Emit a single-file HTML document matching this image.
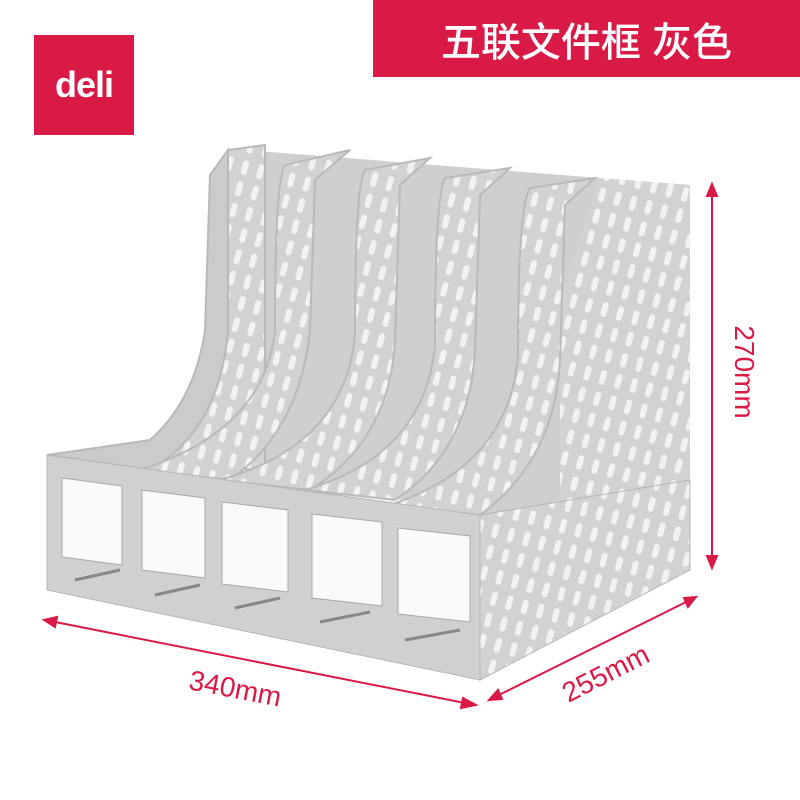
<!DOCTYPE html>
<html><head><meta charset="utf-8"><style>
html,body{margin:0;padding:0;background:#fff;width:800px;height:800px;overflow:hidden}
.logo{position:absolute;left:34px;top:35px;width:100px;height:100px;background:#d91a46;color:#fff;font:bold 36px "Liberation Sans",sans-serif;display:flex;align-items:center;justify-content:center;letter-spacing:-1px}
.ban{position:absolute;left:373px;top:0;width:427px;height:77px;background:#d91a46;color:#fff;font:500 40px "Liberation Sans","Noto Sans CJK SC",sans-serif;display:flex;align-items:center;justify-content:center}
svg{position:absolute;left:0;top:0}
</style></head><body>
<div class="logo">deli</div>
<div class="ban">五联文件框 灰色</div>
<svg width="800" height="800" viewBox="0 0 800 800">
<defs>
<pattern id="holes" width="16" height="22" patternUnits="userSpaceOnUse" patternTransform="rotate(15)">
<rect width="16" height="22" fill="#d2d2d2"/>
<rect x="5" y="3" width="6" height="15" rx="3" fill="#f2f2f2"/>
</pattern>
</defs>
<polygon points="245,150 600,178 690,185 690,570 480,515 245,470" fill="#cfcfcf"/>
<polygon points="600,178 690,185 690,570 560,540 560,300" fill="url(#holes)"/>
<g stroke="#b9b9b9" stroke-width="2">
<path d="M228,150 L265,145 265,470 L150,465 Q170,440 195,420 Q220,380 225,330 Z" fill="url(#holes)"/>
<path d="M228,150 L210,175 L205,330 Q195,400 150,440 L47,455 L150,470 Q220,430 228,330 Z" fill="#cbcbcb"/>
<path d="M350,150 L285,165 Q275,180 275,330 Q265,430 140,470 L230,480 Q300,430 310,330 L315,180 Z" fill="url(#holes)"/>
<path d="M430,158 L365,170 Q355,185 355,335 Q345,445 220,480 L310,490 Q390,440 395,340 L400,185 Z" fill="url(#holes)"/>
<path d="M510,168 L445,178 Q435,195 435,345 Q425,455 305,490 L395,500 Q470,450 475,350 L480,195 Z" fill="url(#holes)"/>
<path d="M595,178 L530,188 Q518,205 518,355 Q510,465 390,505 L480,515 Q555,460 560,360 L565,205 Z" fill="url(#holes)"/>
</g>
<polygon points="47,455 480,515 480,680 47,590" fill="#d0d0d0" stroke="#b5b5b5"/>
<polygon points="480,515 690,480 690,570 480,680" fill="url(#holes)" stroke="#b5b5b5"/>
<g fill="#fafafa" stroke="#a8a8a8">
<polygon points="62,478 122,486 122,565 62,557"/>
<polygon points="142,490 205,498 205,578 142,570"/>
<polygon points="222,502 288,510 288,592 222,584"/>
<polygon points="312,514 382,522 382,606 312,598"/>
<polygon points="398,528 470,536 470,622 398,614"/>
</g>
<g stroke="#888" stroke-width="3">
<line x1="75" y1="580" x2="120" y2="570"/><line x1="155" y1="595" x2="200" y2="585"/>
<line x1="235" y1="608" x2="280" y2="598"/><line x1="320" y1="622" x2="370" y2="612"/>
<line x1="405" y1="640" x2="460" y2="630"/>
</g>
<g stroke="#d91a46" stroke-width="2" fill="#d91a46">
<line x1="712" y1="190" x2="712" y2="562"/>
<polygon points="712,184 707,196 717,196"/><polygon points="712,568 707,556 717,556"/>
<line x1="50" y1="621" x2="470" y2="704"/>
<polygon points="44,620 57,617 55,627"/><polygon points="476,705 463,698 461,708"/>
<line x1="495" y1="697" x2="690" y2="600"/>
<polygon points="489,700 498,690 502,699"/><polygon points="696,597 684,598 688,607"/>
</g>
<g fill="#d91a46" font-family="Liberation Sans,sans-serif" font-size="28">
<text x="235" y="698" text-anchor="middle" transform="rotate(11 235 690)">340mm</text>
<text x="605" y="683" text-anchor="middle" transform="rotate(-27 605 672)">255mm</text>
<text x="735" y="372" text-anchor="middle" transform="rotate(90 735 372)">270mm</text>
</g>
</svg>
</body></html>
